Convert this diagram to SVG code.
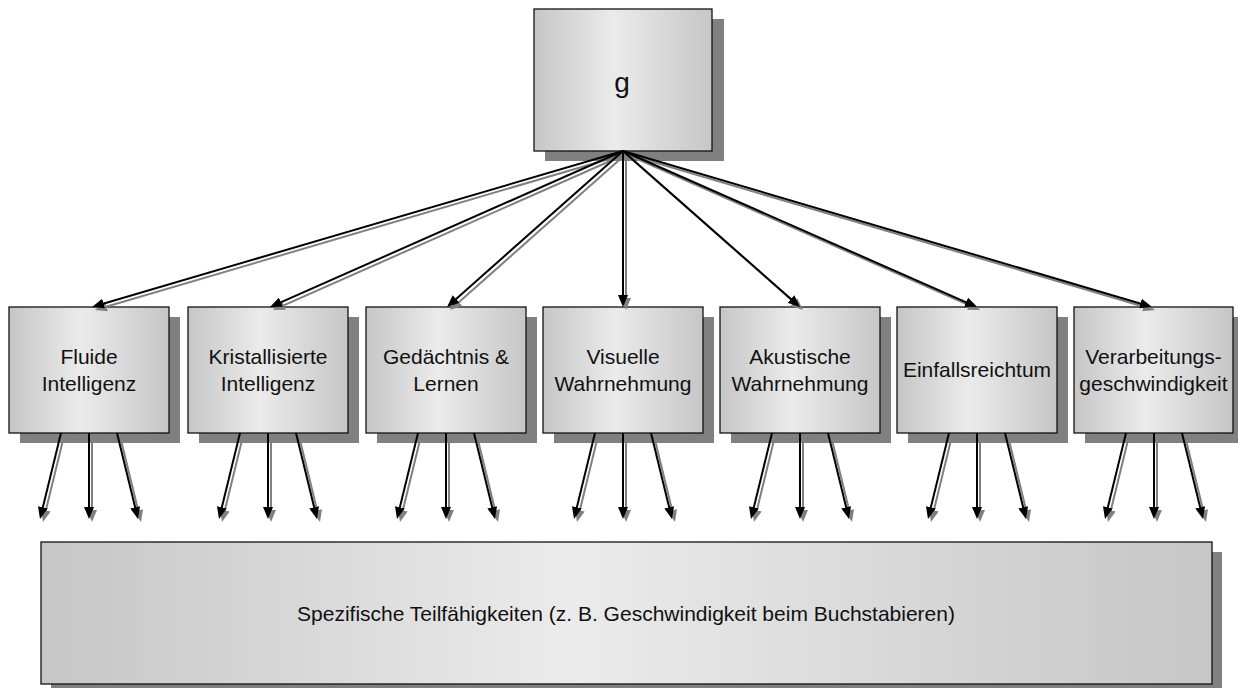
<svg xmlns="http://www.w3.org/2000/svg" width="1238" height="688" viewBox="0 0 1238 688">
  <defs>
    <linearGradient id="fill-box" x1="0" y1="0" x2="1" y2="0">
      <stop offset="0" stop-color="#c6c6c6"/>
      <stop offset="0.45" stop-color="#ebebeb"/>
      <stop offset="1" stop-color="#c6c6c6"/>
    </linearGradient>
    <marker id="head-ink" viewBox="0 0 12 10" refX="4" refY="5" markerWidth="12" markerHeight="10" markerUnits="userSpaceOnUse" orient="auto">
      <path d="M0,0 L12,5 L0,10 z" fill="#000"/>
    </marker>
    <marker id="head-shade" viewBox="0 0 12 10" refX="4" refY="5" markerWidth="12" markerHeight="10" markerUnits="userSpaceOnUse" orient="auto">
      <path d="M0,0 L12,5 L0,10 z" fill="#808080"/>
    </marker>
  </defs>
  <style>
    .shadow { fill: #808080; }
    .box { fill: url(#fill-box); stroke: #111; stroke-width: 1.3; }
    .label { font-family: "Liberation Sans", Arial, sans-serif; font-size: 21px; fill: #111; text-anchor: middle; }
    .big { font-size: 28px; }
    .ink path { fill: none; stroke: #000; stroke-width: 2; marker-end: url(#head-ink); }
    .shade path { fill: none; stroke: #808080; stroke-width: 2; marker-end: url(#head-shade); }
  </style>
  <rect width="1238" height="688" fill="#fff"/>

  <!-- general factor -->
  <g id="node-g">
    <rect class="shadow" x="545" y="19" width="179" height="142"/>
    <rect class="box" x="534" y="9" width="178" height="142"/>
    <text class="label big" x="622" y="92">g</text>
  </g>

  <!-- broad abilities -->
  <g id="node-fluid">
    <rect class="shadow" x="20" y="317" width="160" height="126"/>
    <rect class="box" x="9" y="307" width="160" height="126"/>
    <text class="label" x="89" y="364">Fluide</text>
    <text class="label" x="89" y="390.5">Intelligenz</text>
  </g>
  <g id="node-crystal">
    <rect class="shadow" x="199" y="317" width="160" height="126"/>
    <rect class="box" x="188" y="307" width="160" height="126"/>
    <text class="label" x="268" y="364">Kristallisierte</text>
    <text class="label" x="268" y="390.5">Intelligenz</text>
  </g>
  <g id="node-memory">
    <rect class="shadow" x="377" y="317" width="160" height="126"/>
    <rect class="box" x="366" y="307" width="160" height="126"/>
    <text class="label" x="446" y="364">Gedächtnis &amp;</text>
    <text class="label" x="446" y="390.5">Lernen</text>
  </g>
  <g id="node-visual">
    <rect class="shadow" x="554" y="317" width="160" height="126"/>
    <rect class="box" x="543" y="307" width="160" height="126"/>
    <text class="label" x="623" y="364">Visuelle</text>
    <text class="label" x="623" y="390.5">Wahrnehmung</text>
  </g>
  <g id="node-auditory">
    <rect class="shadow" x="731" y="317" width="160" height="126"/>
    <rect class="box" x="720" y="307" width="160" height="126"/>
    <text class="label" x="800" y="364">Akustische</text>
    <text class="label" x="800" y="390.5">Wahrnehmung</text>
  </g>
  <g id="node-ideas">
    <rect class="shadow" x="908" y="317" width="160" height="126"/>
    <rect class="box" x="897" y="307" width="160" height="126"/>
    <text class="label" x="977" y="377">Einfallsreichtum</text>
  </g>
  <g id="node-speed">
    <rect class="shadow" x="1085" y="317" width="160" height="126"/>
    <rect class="box" x="1074" y="307" width="159" height="126"/>
    <text class="label" x="1153.5" y="364">Verarbeitungs-</text>
    <text class="label" x="1153.5" y="390.5">geschwindigkeit</text>
  </g>

  <!-- narrow abilities -->
  <g id="node-specific">
    <rect class="shadow" x="51" y="552" width="1171" height="142"/>
    <rect class="box" x="41" y="542" width="1171" height="142"/>
    <text class="label" x="626" y="621">Spezifische Teilfähigkeiten (z. B. Geschwindigkeit beim Buchstabieren)</text>
  </g>

  <!-- arrows: grey offset copy underneath, black on top -->
  <g id="connectors">
    <g class="shade" transform="translate(3,3)">
      <path d="M623,151 L99.7,304.7"/>
      <path d="M623,151 L277.3,303.8"/>
      <path d="M623,151 L453,301.7"/>
      <path d="M623,151 L623,299"/>
      <path d="M623,151 L794,301.7"/>
      <path d="M623,151 L969.7,303.8"/>
      <path d="M623,151 L1144.3,304.7"/>
      <path d="M61,433 L41.9,511.2"/><path d="M89,433 L89,511"/><path d="M117,433 L136.1,511.2"/>
      <path d="M240,433 L220.9,511.2"/><path d="M268,433 L268,511"/><path d="M296,433 L315.1,511.2"/>
      <path d="M418,433 L398.9,511.2"/><path d="M446,433 L446,511"/><path d="M474,433 L493.1,511.2"/>
      <path d="M595,433 L575.9,511.2"/><path d="M623,433 L623,511"/><path d="M651,433 L670.1,511.2"/>
      <path d="M772,433 L752.9,511.2"/><path d="M800,433 L800,511"/><path d="M828,433 L847.1,511.2"/>
      <path d="M949,433 L929.9,511.2"/><path d="M977,433 L977,511"/><path d="M1005,433 L1024.1,511.2"/>
      <path d="M1126,433 L1106.9,511.2"/><path d="M1154,433 L1154,511"/><path d="M1182,433 L1201.1,511.2"/>
    </g>
    <g class="ink">
      <path d="M623,151 L99.7,304.7"/>
      <path d="M623,151 L277.3,303.8"/>
      <path d="M623,151 L453,301.7"/>
      <path d="M623,151 L623,299"/>
      <path d="M623,151 L794,301.7"/>
      <path d="M623,151 L969.7,303.8"/>
      <path d="M623,151 L1144.3,304.7"/>
      <path d="M61,433 L41.9,511.2"/><path d="M89,433 L89,511"/><path d="M117,433 L136.1,511.2"/>
      <path d="M240,433 L220.9,511.2"/><path d="M268,433 L268,511"/><path d="M296,433 L315.1,511.2"/>
      <path d="M418,433 L398.9,511.2"/><path d="M446,433 L446,511"/><path d="M474,433 L493.1,511.2"/>
      <path d="M595,433 L575.9,511.2"/><path d="M623,433 L623,511"/><path d="M651,433 L670.1,511.2"/>
      <path d="M772,433 L752.9,511.2"/><path d="M800,433 L800,511"/><path d="M828,433 L847.1,511.2"/>
      <path d="M949,433 L929.9,511.2"/><path d="M977,433 L977,511"/><path d="M1005,433 L1024.1,511.2"/>
      <path d="M1126,433 L1106.9,511.2"/><path d="M1154,433 L1154,511"/><path d="M1182,433 L1201.1,511.2"/>
    </g>
  </g>
</svg>
